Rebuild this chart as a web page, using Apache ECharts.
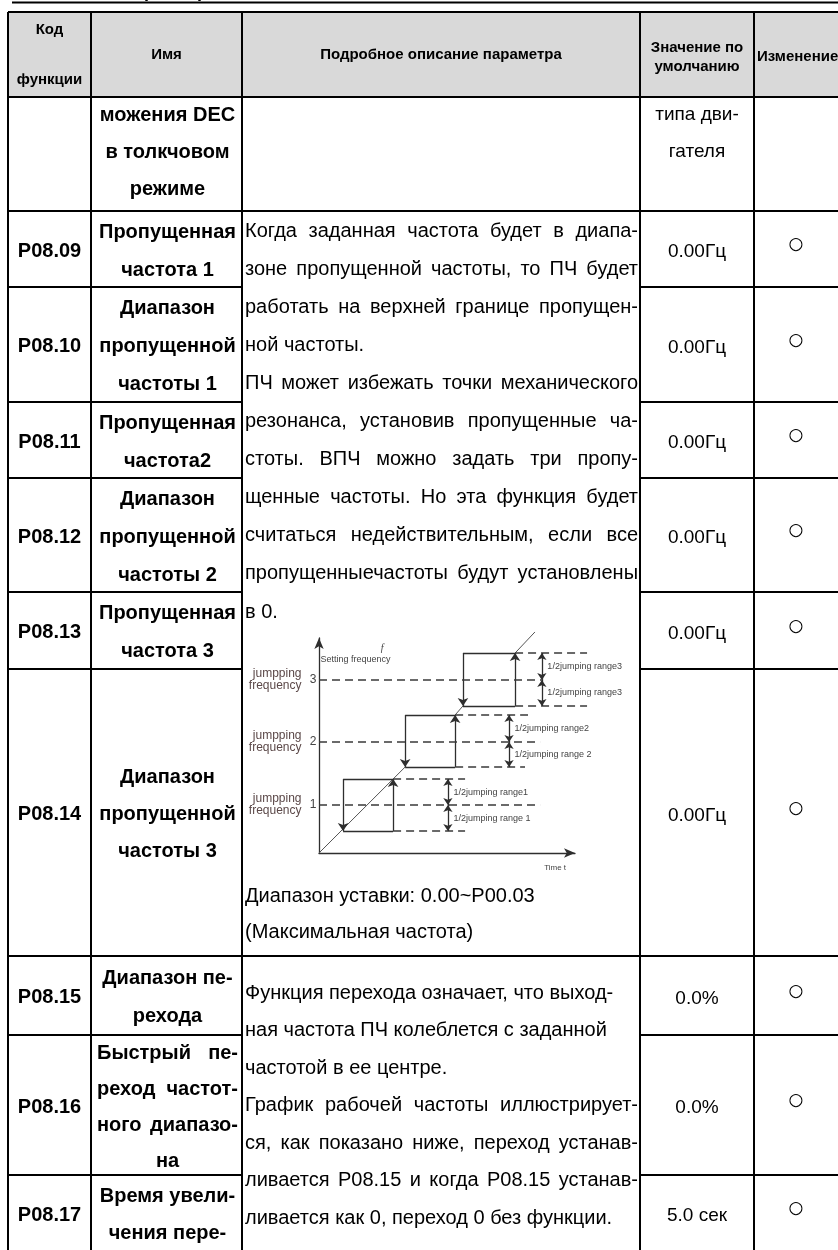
<!DOCTYPE html>
<html><head><meta charset="utf-8">
<script src="https://cdn.jsdelivr.net/npm/echarts@6/dist/echarts.min.js"></script>
<style>html,body{margin:0;padding:0;background:#fff}#c{width:838px;height:1250px}</style>
</head><body><div id="c"></div>
<script>
// ---------------- DATA ----------------
const pageTitle = 'Описание параметров';
const headerCode = ['Код', 'функции'];
const headerName = 'Имя';
const headerDesc = 'Подробное описание параметра';
const headerDefault = ['Значение по', 'умолчанию'];
const headerChange = 'Изменение';

const codes = ['', 'P08.09', 'P08.10', 'P08.11', 'P08.12', 'P08.13', 'P08.14', 'P08.15', 'P08.16', 'P08.17'];
const names = [
  ['можения DEC', 'в толкчовом', 'режиме'],
  ['Пропущенная', 'частота 1'],
  ['Диапазон', 'пропущенной', 'частоты 1'],
  ['Пропущенная', 'частота2'],
  ['Диапазон', 'пропущенной', 'частоты 2'],
  ['Пропущенная', 'частота 3'],
  ['Диапазон', 'пропущенной', 'частоты 3'],
  ['Диапазон пе-', 'рехода'],
  ['Быстрый пе-', 'реход частот-', 'ного диапазо-', 'на'],
  ['Время увели-', 'чения пере-']
];
const defaults = [['типа дви-', 'гателя'], ['0.00Гц'], ['0.00Гц'], ['0.00Гц'], ['0.00Гц'], ['0.00Гц'], ['0.00Гц'], ['0.0%'], ['0.0%'], ['5.0 сек']];
const changes = ['', '○', '○', '○', '○', '○', '○', '○', '○', '○'];

const descBlock1 = [
  'Когда заданная частота будет в диапа-',
  'зоне пропущенной частоты, то ПЧ будет',
  'работать на верхней границе пропущен-',
  'ной частоты.',
  'ПЧ может избежать точки механического',
  'резонанса, установив пропущенные ча-',
  'стоты. ВПЧ можно задать три пропу-',
  'щенные частоты. Но эта функция будет',
  'считаться недействительным, если все',
  'пропущенныечастоты будут установлены',
  'в 0.'
];
const descBlock1Tail = ['Диапазон уставки: 0.00~P00.03', '(Максимальная частота)'];
const descBlock2 = [
  'Функция перехода означает, что выход-',
  'ная частота ПЧ колеблется с заданной',
  'частотой в ее центре.',
  'График рабочей частоты иллюстрирует-',
  'ся, как показано ниже, переход устанав-',
  'ливается P08.15 и когда P08.15 устанав-',
  'ливается как 0, переход 0 без функции.'
];

// Diagram (schematic units: time 0..85, frequency 0..100)
const jumpFreq    = [22.3, 51.6, 80.5];
const bandTop     = [34.4, 64.2, 93.0];
const bandBottom  = [10.2, 40.0, 68.4];
const holdStartX  = [8.0, 28.6, 47.8];
const holdEndX    = [24.6, 45.2, 65.1];
const rangeArrowX = [42.8, 63.1, 74.0];
const centerEndX  = [73.4, 73.4, 74.0];
const topEndX     = [48.5, 69.4, 89.0];
const bottomEndX  = [48.5, 68.4, 89.0];
const rampSegments = [
  [[0, 0], [24.6, 34.4]],
  [[24.6, 34.4], [28.6, 40.0]],
  [[45.2, 64.2], [47.8, 68.4]],
  [[65.1, 93.0], [71.7, 102.8]]
];
const jumpNumbers = ['1', '2', '3'];
const rangeLabelsUpper = ['1/2jumping range1', '1/2jumping range2', '1/2jumping range3'];
const rangeLabelsLower = ['1/2jumping range 1', '1/2jumping range 2', '1/2jumping range3'];
const axisYName = 'Setting frequency';
const axisXName = 'Time t';

// ---------------- LAYOUT ----------------
const colX = [8, 91, 242, 640, 754];
const RIGHT = 840;
const TOP = 12, HEAD_BOTTOM = 97;
const rowEdges = [97, 211, 287, 402, 478, 592, 669, 956, 1035, 1175, 1251];
const namePitch = [37, 38, 38, 38, 38, 38, 37, 38, 36, 37];
const FONT_B = 'bold 20px "Liberation Sans"';
const FONT_R = 'normal 20px "Liberation Sans"';
const FONT_D = 'normal 19px "Liberation Sans"';
const FONT_H = 'bold 15px "Liberation Sans"';
const FONT_C = 'normal 17px "DejaVu Sans"';

const mctx = document.createElement('canvas').getContext('2d');
function measure(t, font) { mctx.font = font; return mctx.measureText(t).width; }
function txt(t, x, y, font, align) {
  return {type: 'text', z: 10, style: {text: t, x: x, y: y, font: font, fill: '#000',
    textAlign: align || 'left', textVerticalAlign: 'middle'}};
}
function placeLine(els, text, y, x0, x1, mode, font) {
  if (mode === 'J') {
    const words = text.split(/\s+/).filter(Boolean);
    const ws = words.map(w => measure(w, font));
    const total = ws.reduce((a, b) => a + b, 0);
    const gap = words.length > 1 ? (x1 - x0 - total) / (words.length - 1) : 0;
    let x = x0;
    words.forEach((w, i) => { els.push(txt(w, x, y, font, 'left')); x += ws[i] + gap; });
  } else if (mode === 'L') {
    els.push(txt(text, x0, y, font, 'left'));
  } else {
    els.push(txt(text, (x0 + x1) / 2, y, font, 'center'));
  }
}
function hline(y, x1, x2, w) { return {type: 'line', z: 5, shape: {x1: x1, y1: y, x2: x2, y2: y}, style: {stroke: '#000', lineWidth: w || 2}}; }
function vline(x, y1, y2, w) { return {type: 'line', z: 5, shape: {x1: x, y1: y1, x2: x, y2: y2}, style: {stroke: '#000', lineWidth: w || 2}}; }

const els = [];
els.push({type: 'rect', z: 1, shape: {x: colX[0], y: TOP, width: RIGHT - colX[0], height: HEAD_BOTTOM - TOP}, style: {fill: '#d9d9d9'}});
els.push({type: 'text', z: 10, style: {text: pageTitle, x: 30, y: 1, font: 'bold 18px "Liberation Sans"', fill: '#000', textAlign: 'left', textVerticalAlign: 'bottom'}});
els.push(hline(2.5, 12, RIGHT, 2));
els.push(hline(TOP, colX[0], RIGHT));
els.push(hline(HEAD_BOTTOM, colX[0], RIGHT));
colX.forEach(x => els.push(vline(x, TOP, 1250)));
for (let i = 1; i < rowEdges.length - 1; i++) {
  const y = rowEdges[i];
  els.push(hline(y, colX[0], colX[2]));
  els.push(hline(y, colX[3], RIGHT));
}
els.push(hline(rowEdges[1], colX[2], colX[3]));
els.push(hline(rowEdges[7], colX[2], colX[3]));

els.push(txt(headerCode[0], (colX[0] + colX[1]) / 2, 30, FONT_H, 'center'));
els.push(txt(headerCode[1], (colX[0] + colX[1]) / 2, 80, FONT_H, 'center'));
els.push(txt(headerName, (colX[1] + colX[2]) / 2, 55, FONT_H, 'center'));
els.push(txt(headerDesc, (colX[2] + colX[3]) / 2, 55, FONT_H, 'center'));
els.push(txt(headerDefault[0], (colX[3] + colX[4]) / 2, 48, FONT_H, 'center'));
els.push(txt(headerDefault[1], (colX[3] + colX[4]) / 2, 67, FONT_H, 'center'));
els.push(txt(headerChange, 757, 57, FONT_H, 'left'));

const justifyNames = {8: ['J', 'J', 'J', 'C']};
for (let r = 0; r < codes.length; r++) {
  const top = rowEdges[r], bot = rowEdges[r + 1];
  const mid = (top + bot) / 2;
  const off = r === 0 ? -2 : 2;
  if (codes[r]) els.push(txt(codes[r], (colX[0] + colX[1]) / 2, mid + off, FONT_B, 'center'));
  const n = names[r].length, L = namePitch[r];
  const first = mid - (n - 1) * L / 2 + off;
  names[r].forEach((s, i) => {
    const mode = justifyNames[r] ? justifyNames[r][i] : 'C';
    placeLine(els, s, first + i * L, 97, 238, mode, FONT_B);
  });
  if (r === 0) {
    defaults[r].forEach((s, i) => els.push(txt(s, (colX[3] + colX[4]) / 2, first + i * L, FONT_D, 'center')));
  } else {
    els.push(txt(defaults[r][0], (colX[3] + colX[4]) / 2, mid + 3, FONT_D, 'center'));
  }
  if (changes[r]) els.push(txt(changes[r], 796, mid - 4, FONT_C, 'center'));
}

const modes1 = ['J', 'J', 'J', 'L', 'J', 'J', 'J', 'J', 'J', 'J', 'L'];
descBlock1.forEach((s, i) => placeLine(els, s, 231 + i * 38.1, 245, 638, modes1[i], FONT_R));
descBlock1Tail.forEach((s, i) => placeLine(els, s, 896 + i * 36, 245, 638, 'L', FONT_R));
const modes2 = ['L', 'L', 'L', 'J', 'J', 'J', 'L'];
descBlock2.forEach((s, i) => placeLine(els, s, 993 + i * 37.5, 245, 638, modes2[i], FONT_R));

// ---------------- DIAGRAM SERIES ----------------
const SOLID = {color: '#2e2e2e', width: 1.3, opacity: 1};
const DASH = {color: '#3a3a3a', width: 1.6, type: [8, 5], opacity: 1};
const toData = arr => arr.map(c => ({coords: c}));

const holdLines = [], downArrows = [], upArrows = [], dashLines = [], rangeArrows = [];
for (let i = 0; i < 3; i++) {
  holdLines.push([[holdStartX[i], bandTop[i]], [holdEndX[i], bandTop[i]]]);
  holdLines.push([[holdStartX[i], bandBottom[i]], [holdEndX[i], bandBottom[i]]]);
  downArrows.push([[holdStartX[i], bandTop[i]], [holdStartX[i], bandBottom[i]]]);
  upArrows.push([[holdEndX[i], bandBottom[i]], [holdEndX[i], bandTop[i]]]);
  dashLines.push([[0, jumpFreq[i]], [centerEndX[i], jumpFreq[i]]]);
  dashLines.push([[holdEndX[i], bandTop[i]], [topEndX[i], bandTop[i]]]);
  dashLines.push([[holdEndX[i], bandBottom[i]], [bottomEndX[i], bandBottom[i]]]);
  rangeArrows.push([[rangeArrowX[i], bandTop[i]], [rangeArrowX[i], jumpFreq[i]]]);
  rangeArrows.push([[rangeArrowX[i], jumpFreq[i]], [rangeArrowX[i], bandBottom[i]]]);
}
function labelSeries(data, label) {
  return {type: 'scatter', coordinateSystem: 'cartesian2d', clip: false, silent: true, z: 20,
    symbol: 'circle', symbolSize: 1, itemStyle: {color: 'rgba(0,0,0,0)'}, data: data,
    label: Object.assign({show: true, opacity: 1}, label)};
}
const fLabelColor = '#5b4848';

const option = {
  animation: false,
  backgroundColor: '#fff',
  graphic: {elements: els},
  grid: {left: 319, top: 638, width: 256, height: 215, containLabel: false},
  xAxis: {type: 'value', min: 0, max: 85,
    axisLine: {show: true, onZero: false, symbol: ['none', 'arrow'], symbolSize: [7, 11], lineStyle: {color: '#2e2e2e', width: 1.3}},
    axisTick: {show: false}, axisLabel: {show: false}, splitLine: {show: false}},
  yAxis: {type: 'value', min: 0, max: 100,
    axisLine: {show: true, onZero: false, symbol: ['none', 'arrow'], symbolSize: [7, 11], lineStyle: {color: '#2e2e2e', width: 1.3}},
    axisTick: {show: false}, axisLabel: {show: false}, splitLine: {show: false}},
  series: [
    {type: 'lines', coordinateSystem: 'cartesian2d', clip: false, silent: true, symbol: 'none', lineStyle: {color: '#555', width: 1, opacity: 1}, data: toData(rampSegments)},
    {type: 'lines', coordinateSystem: 'cartesian2d', clip: false, silent: true, symbol: 'none', lineStyle: SOLID, data: toData(holdLines)},
    {type: 'lines', coordinateSystem: 'cartesian2d', clip: false, silent: true, symbol: ['none', 'arrow'], symbolSize: 8, lineStyle: SOLID, data: toData(downArrows.concat(upArrows))},
    {type: 'lines', coordinateSystem: 'cartesian2d', clip: false, silent: true, symbol: 'none', lineStyle: DASH, data: toData(dashLines)},
    {type: 'lines', coordinateSystem: 'cartesian2d', clip: false, silent: true, symbol: ['arrow', 'arrow'], symbolSize: 7, lineStyle: SOLID, data: toData(rangeArrows)},
    labelSeries(jumpFreq.map(f => [0, f]), {position: 'left', distance: 17, formatter: 'jumpping\nfrequency', color: fLabelColor, fontSize: 12, lineHeight: 12, align: 'right', fontFamily: 'Liberation Sans'}),
    labelSeries(jumpFreq.map((f, i) => ({value: [0, f], name: jumpNumbers[i]})), {position: 'left', distance: 2, formatter: '{b}', color: '#444', fontSize: 12, fontFamily: 'Liberation Sans'}),
    labelSeries(bandTop.map((t, i) => ({value: [rangeArrowX[i], (t + jumpFreq[i]) / 2], name: rangeLabelsUpper[i]})), {position: 'right', distance: 5, formatter: '{b}', color: '#444', fontSize: 9, fontFamily: 'Liberation Sans'}),
    labelSeries(bandBottom.map((b, i) => ({value: [rangeArrowX[i], (b + jumpFreq[i]) / 2], name: rangeLabelsLower[i]})), {position: 'right', distance: 5, formatter: '{b}', color: '#444', fontSize: 9, fontFamily: 'Liberation Sans'}),
    labelSeries([{value: [0, 90.2], name: axisYName}], {position: 'right', distance: 1, formatter: '{b}', color: '#444', fontSize: 9, fontFamily: 'Liberation Sans'}),
    labelSeries([{value: [21, 95], name: 'f'}], {position: 'inside', formatter: '{b}', color: '#444', fontSize: 10, fontStyle: 'italic', fontFamily: 'Liberation Serif'}),
    labelSeries([{value: [78.4, -7], name: axisXName}], {position: 'inside', formatter: '{b}', color: '#444', fontSize: 8, fontFamily: 'Liberation Sans'})
  ]
};
const chart = echarts.init(document.getElementById('c'), null, {renderer: 'canvas', width: 838, height: 1250});
chart.setOption(option);
</script></body></html>
